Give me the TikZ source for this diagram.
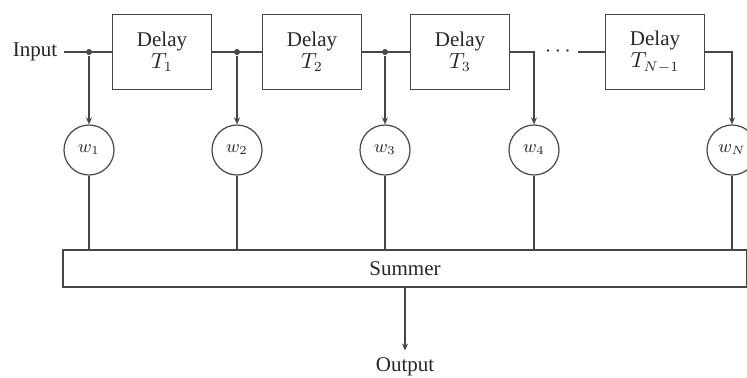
\documentclass[tikz,border=0pt]{standalone}
\usepackage{fontspec}
\setmainfont{Liberation Serif}
\usetikzlibrary{arrows.meta, positioning}
\definecolor{inkgray}{RGB}{70,70,70}

\begin{document}
\begin{tikzpicture}[x=0.5pt, y=-0.5pt, line width=0.6pt, draw=inkgray, text=black!85,
  font=\fontsize{10.5}{11}\selectfont,
  delaybox/.style={draw, minimum width=49.5pt, minimum height=37.5pt, align=center, inner sep=1pt},
  weight/.style={draw, circle, minimum size=25pt, inner sep=0pt, font=\small},
  tap/.style={-{Stealth[length=3.5pt, width=3pt]}},
  joint/.style={circle, fill=inkgray, inner sep=0pt, minimum size=3pt}]
  \useasboundingbox (0,0) rectangle (747,377);
  % delay line
  \node (in) at (35,52) {Input};
  \node[delaybox] (d1) at (162,52) {Delay\\$T_1$};
  \node[delaybox] (d2) at (312,52) {Delay\\$T_2$};
  \node[delaybox] (d3) at (460,52) {Delay\\$T_3$};
  \node (dots) at (558,52) {$\cdots$};
  \node[delaybox] (d4) at (655,52) {Delay\\$T_{N-1}$};
  \node[joint] (j1) at (89,52) {};
  \node[joint] (j2) at (237,52) {};
  \node[joint] (j3) at (385,52) {};
  % weights
  \node[weight] (w1) at (89,150) {$w_1$};
  \node[weight] (w2) at (237,150) {$w_2$};
  \node[weight] (w3) at (385,150) {$w_3$};
  \node[weight] (w4) at (534,150) {$w_4$};
  \node[weight] (wN) at (732,150) {$w_N$};
  % summer and output
  \node[draw, minimum width=342pt, minimum height=18.5pt] (sum) at (405,268.5) {Summer};
  \node (out) at (405,367) {Output};
  \draw (in) -- (d1) (d1) -- (d2) (d2) -- (d3) (dots) -- (d4);
  \foreach \j/\w in {j1/w1, j2/w2, j3/w3}
    \draw[tap] (\j) -- (\w);
  \draw[tap] (d3.east) -| (w4.north);
  \draw[tap] (d4.east) -| (wN.north);
  \foreach \w in {w1, w2, w3, w4, wN}
    \draw (\w) -- (\w |- sum.north);
  \draw[tap] (sum.south -| out) -- (out.north);
\end{tikzpicture}
\end{document}
